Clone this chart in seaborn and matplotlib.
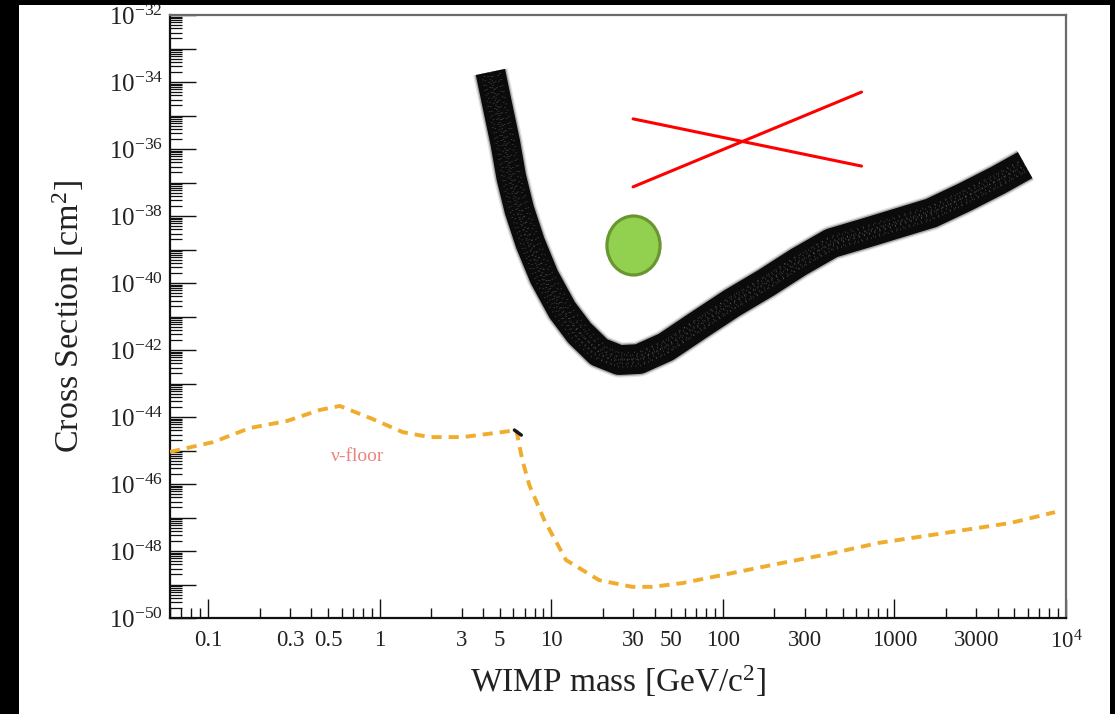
import numpy as np
import pandas as pd
import matplotlib
matplotlib.use("Agg")
import matplotlib.pyplot as plt
import matplotlib.patheffects as pe
import seaborn as sns
from matplotlib.patches import Rectangle
from matplotlib.path import Path
from matplotlib.transforms import Affine2D
from matplotlib.ticker import FixedLocator, NullFormatter

# ---- data -------------------------------------------------------------
# experimental exclusion limit (thick black band)
limit_mass = [4.42, 4.92, 5.40, 5.85, 6.52, 7.55, 9.10, 11.6, 14.6, 19.0,
              24.9, 32.5, 46.6, 72.5, 113, 178, 277, 430, 678, 1055, 1641,
              2588, 4024, 5780]
limit_exp = [-33.70, -34.84, -35.82, -36.84, -37.82, -38.81, -39.82, -40.81,
             -41.49, -42.06, -42.30, -42.27, -41.91, -41.25, -40.60, -40.00,
             -39.37, -38.81, -38.51, -38.21, -37.91, -37.43, -36.93, -36.48]

# neutrino floor (dashed)
floor_mass = [0.06, 0.107, 0.175, 0.288, 0.448, 0.585, 0.91, 1.36, 1.95,
              3.04, 5.19, 6.26, 6.78, 7.45, 9.1, 12.2, 19.0, 29.6, 38.7,
              57.8, 113, 220, 413, 807, 1981, 4786, 8630]
floor_exp = [-45.04, -44.75, -44.33, -44.12, -43.79, -43.67, -44.06, -44.45,
             -44.60, -44.60, -44.45, -44.39, -45.28, -46.03, -47.07, -48.27,
             -48.87, -49.07, -49.07, -48.96, -48.66, -48.36, -48.09, -47.76,
             -47.46, -47.16, -46.84]

# crossed-out region (two red strokes)
cross_a_mass = [30, 643]
cross_a_exp = [-35.10, -36.51]
cross_b_mass = [30, 643]
cross_b_exp = [-37.13, -34.30]

# highlighted signal point
signal_mass = [30]
signal_exp = [-38.87]

# axis ticks
y_major_exp = list(range(-50, -31))
x_major = [0.1, 1, 10, 100, 1000, 1e4]
x_major_labels = ["0.1", "1", "10", "100", "1000", "$10^{4}$"]
x_minor_labeled = {0.3: "0.3", 0.5: "0.5", 3: "3", 5: "5", 30: "30",
                   50: "50", 300: "300", 3000: "3000"}

limit_df = pd.DataFrame({"mass": limit_mass,
                         "xsec": 10.0 ** np.array(limit_exp)})
floor_df = pd.DataFrame({"mass": floor_mass,
                         "xsec": 10.0 ** np.array(floor_exp)})

# ---- style ------------------------------------------------------------
sns.set_style("ticks")
plt.rcParams["font.family"] = ["Liberation Serif", "DejaVu Serif"]
plt.rcParams["mathtext.fontset"] = "custom"
plt.rcParams["mathtext.rm"] = "Liberation Serif"
plt.rcParams["mathtext.it"] = "Liberation Serif:italic"

W, H = 1115, 714
fig = plt.figure(figsize=(W / 100, H / 100), dpi=100, facecolor="black")
fig.add_artist(Rectangle((19 / W, 0), (1110 - 19) / W, (H - 5) / H,
                         transform=fig.transFigure, facecolor="white",
                         edgecolor="none", zorder=-1))
ax = fig.add_axes([170 / W, 1 - 618 / H, (1066 - 170) / W, (618 - 15) / H])
ax.set_facecolor("white")
ax.set_xscale("log")
ax.set_yscale("log")
ax.set_xlim(0.06, 1e4)
ax.set_ylim(1e-50, 1e-32)

# neutrino floor
sns.lineplot(data=floor_df, x="mass", y="xsec", ax=ax, sort=False,
             estimator=None, color="#F0AC2C", lw=2.8,
             linestyle=(0, (2.6, 1.8)), zorder=3)
ax.plot([6.10, 6.69], [10 ** -44.39, 10 ** -44.54], color="#1a1a1a",
        lw=2.5, solid_capstyle="round", zorder=4)
ax.text(0.745, 10 ** -45.19, "ν-floor", color="#E8857C", fontsize=14,
        ha="center", va="center", zorder=4)

# exclusion limit band: soft halo and dark core
for width, alpha in ((25.5, 0.10), (23.5, 0.25)):
    sns.lineplot(data=limit_df, x="mass", y="xsec", ax=ax, sort=False,
                 estimator=None, color="#000000", lw=width, alpha=alpha,
                 solid_capstyle="butt", solid_joinstyle="round", zorder=5)
sns.lineplot(data=limit_df, x="mass", y="xsec", ax=ax, sort=False,
             estimator=None, color="#0b0b0b", lw=21.5,
             solid_capstyle="butt", solid_joinstyle="round", zorder=6)

# grainy speckle inside the band
grain_styles = [(0.0, (0.35, 2.3)), (1.1, (0.35, 2.9)), (0.5, (0.35, 3.4))]
grain_offsets = [(-5, 0), (5, 0), (0, 5), (0, -5), (-3, 3), (3, -3),
                 (0, 0), (-6, -3), (6, 3)]
for i, style in enumerate(grain_styles):
    offs = grain_offsets[i::3]
    line = ax.plot(limit_mass, 10.0 ** np.array(limit_exp), color="white",
                   lw=1.2, alpha=0.28, linestyle=style, zorder=7)[0]
    line.set_path_effects([pe.Stroke(offset=o) for o in offs])

# red cross
ax.plot(cross_a_mass, 10.0 ** np.array(cross_a_exp), color="#FF0000",
        lw=2.2, zorder=8)
ax.plot(cross_b_mass, 10.0 ** np.array(cross_b_exp), color="#FF0000",
        lw=2.2, zorder=8)

# green ellipse marker
ellipse = Path.unit_circle().transformed(Affine2D().scale(0.9, 1.0))
ax.plot(signal_mass, 10.0 ** np.array(signal_exp), linestyle="none",
        marker=ellipse, markersize=42.5, markerfacecolor="#92D050",
        markeredgecolor="#6A962F", markeredgewidth=2.3, zorder=9)

# ---- ticks ------------------------------------------------------------
y_major = [10.0 ** e for e in y_major_exp]
y_labels = [f"$10^{{{e}}}$" if e % 2 == 0 else "" for e in y_major_exp]
ax.set_yticks(y_major, labels=y_labels)
y_minor = [m * 10.0 ** e for e in range(-50, -32) for m in range(2, 10)]
ax.yaxis.set_minor_locator(FixedLocator(y_minor))
ax.yaxis.set_minor_formatter(NullFormatter())

ax.set_xticks(x_major, labels=x_major_labels)
x_minor = [m * 10.0 ** e for e in range(-2, 4) for m in range(2, 10)]
x_minor = [v for v in x_minor if 0.06 <= v <= 1e4]
x_minor_labels = []
for v in x_minor:
    key = min(x_minor_labeled, key=lambda k: abs(np.log10(k) - np.log10(v)))
    x_minor_labels.append(x_minor_labeled[key]
                          if abs(np.log10(key) - np.log10(v)) < 1e-6 else "")
ax.set_xticks(x_minor, labels=x_minor_labels, minor=True)

ax.tick_params(axis="y", which="major", direction="in", length=18.5,
               width=1.0, color="#111111", pad=5, labelsize=18,
               labelcolor="#222222")
ax.tick_params(axis="y", which="minor", direction="in", length=8.5,
               width=0.9, color="#111111")
ax.tick_params(axis="x", which="both", direction="in", width=1.0,
               color="#111111", pad=9, labelsize=16.5, labelcolor="#222222")
ax.tick_params(axis="x", which="major", length=14)
ax.tick_params(axis="x", which="minor", length=7)
ax.tick_params(top=False, right=False, which="both")

for side in ("left", "bottom"):
    ax.spines[side].set_color("#111111")
    ax.spines[side].set_linewidth(1.6)
for side in ("top", "right"):
    ax.spines[side].set_color("#6a6a6a")
    ax.spines[side].set_linewidth(1.6)

# ---- axis titles ------------------------------------------------------
ax.set_xlabel("WIMP mass [GeV/c$^{2}$]", fontsize=24, color="#222222")
ax.set_ylabel("Cross Section [cm$^{2}$]", fontsize=24.5, color="#222222")
ax.xaxis.label.set(ha="center", va="center")
ax.yaxis.label.set(ha="center", va="center", rotation_mode="default")
ax.xaxis.set_label_coords((618 - 170) / 896, (618 - 681) / 603)
ax.yaxis.set_label_coords((68 - 170) / 896, (618 - 316) / 603)

fig.savefig("out.png", dpi=100, facecolor="black")
